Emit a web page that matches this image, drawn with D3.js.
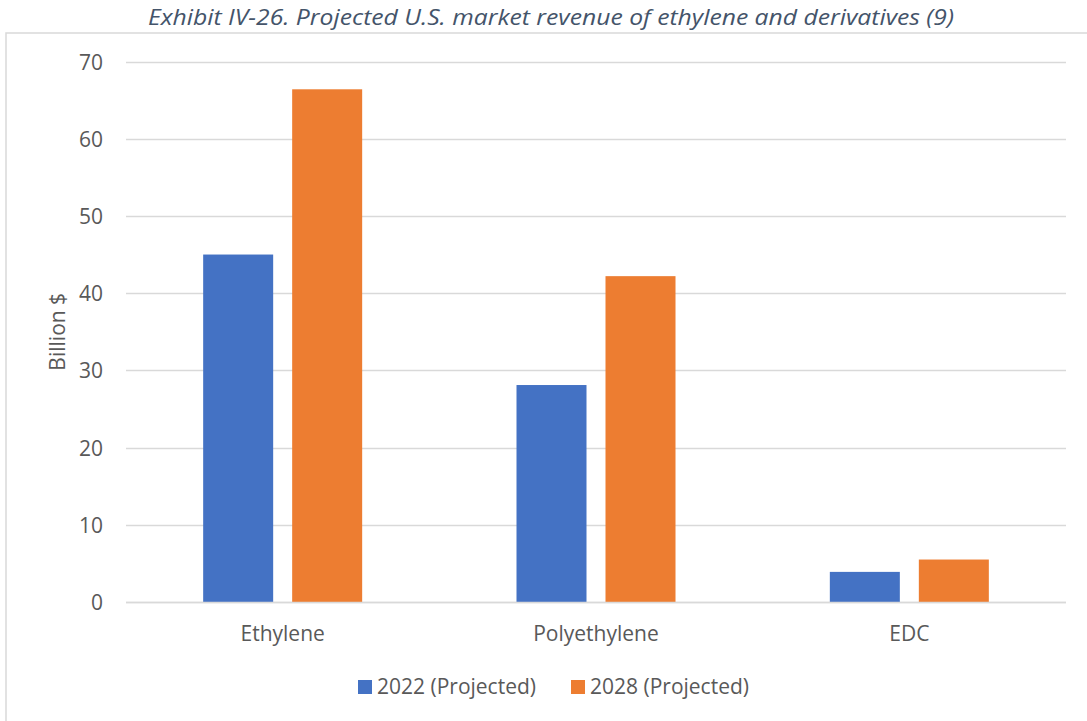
<!DOCTYPE html>
<html><head><meta charset="utf-8">
<script src="https://cdn.jsdelivr.net/npm/d3@7"></script>
<style>
html,body{margin:0;padding:0;background:#fff;}
svg{display:block;}
text{font-family:"Open Sans",sans-serif;}
</style></head>
<body>
<svg id="c" width="1087" height="721"></svg>
<script>
const categories = ["Ethylene", "Polyethylene", "EDC"];
const seriesNames = ["2022 (Projected)", "2028 (Projected)"];
const values2022 = [45.0, 28.1, 3.9];
const values2028 = [66.4, 42.2, 5.5];
const yTicks = [0, 10, 20, 30, 40, 50, 60, 70];
const colors = ["#4472C4", "#ED7D31"];
const title = "Exhibit IV-26. Projected U.S. market revenue of ethylene and derivatives (9)";
const yLabel = "Billion $";

const svg = d3.select("#c");
const W = 1087, H = 721;
const FS = 21;

// chart border
svg.append("rect").attr("x", 6).attr("y", 33).attr("width", W + 10).attr("height", H + 10)
  .attr("fill", "#fff").attr("stroke", "#d9d9d9").attr("stroke-width", 1.5);

// title
svg.append("text").attr("x", 551).attr("y", 25).attr("text-anchor", "middle")
  .attr("font-size", 22).attr("font-style", "italic").attr("fill", "#44546A")
  .attr("textLength", 806).attr("lengthAdjust", "spacingAndGlyphs").text(title);

const plotL = 126, plotR = 1066, plotT = 61.5, plotB = 602;
const y = d3.scaleLinear().domain([0, 70]).range([plotB, plotT]);
const x0 = d3.scaleBand().domain(categories).range([plotL, plotR]).padding(0);
const groupW = 159;
const x1 = d3.scaleBand().domain(seriesNames)
  .range([(x0.bandwidth() - groupW) / 2, (x0.bandwidth() + groupW) / 2])
  .paddingInner(19 / 89).paddingOuter(0);

// gridlines
svg.append("g").selectAll("line").data(yTicks).join("line")
  .attr("x1", plotL).attr("x2", plotR)
  .attr("y1", d => Math.round(y(d)) + 0.5).attr("y2", d => Math.round(y(d)) + 0.5)
  .attr("stroke", "#d9d9d9").attr("stroke-width", 1.5);

// y tick labels via axis
const yAxis = d3.axisLeft(y).tickValues(yTicks).tickSize(0).tickPadding(0);
const gy = svg.append("g").attr("transform", `translate(103,0)`).call(yAxis);
gy.select(".domain").remove();
gy.selectAll("text").attr("font-size", FS).attr("fill", "#595959")
  .attr("font-family", "Open Sans, sans-serif").attr("dy", "0.36em");

// y label
svg.append("text").attr("transform", `translate(65,${(plotT + plotB) / 2}) rotate(-90)`)
  .attr("text-anchor", "middle").attr("font-size", FS).attr("fill", "#595959").text(yLabel);

// bars
const data = categories.map((c, i) => ({ cat: c, vals: [values2022[i], values2028[i]] }));
const groups = svg.append("g").selectAll("g").data(data).join("g")
  .attr("transform", d => `translate(${x0(d.cat)},0)`);
groups.selectAll("rect").data(d => d.vals.map((v, j) => ({ s: seriesNames[j], v, j })))
  .join("rect")
  .attr("x", d => x1(d.s)).attr("width", x1.bandwidth())
  .attr("y", d => y(d.v)).attr("height", d => y(0) - y(d.v))
  .attr("fill", d => colors[d.j]);

// baseline redraw on top
svg.append("line").attr("x1", plotL).attr("x2", plotR).attr("y1", Math.round(y(0)) + 0.5).attr("y2", Math.round(y(0)) + 0.5)
  .attr("stroke", "#d9d9d9").attr("stroke-width", 1.5);

// x axis labels
const xAxis = d3.axisBottom(x0).tickSize(0).tickPadding(0);
const gx = svg.append("g").attr("transform", `translate(0,641)`).call(xAxis);
gx.select(".domain").remove();
gx.selectAll("text").attr("font-size", FS).attr("fill", "#595959")
  .attr("font-family", "Open Sans, sans-serif").attr("dy", 0).attr("y", 0);

// legend
const legX = [358, 571];
const lg = svg.append("g").selectAll("g").data(seriesNames).join("g")
  .attr("transform", (d, i) => `translate(${legX[i]},680)`);
lg.append("rect").attr("width", 14).attr("height", 14).attr("fill", (d, i) => colors[i]);
lg.append("text").attr("x", 19).attr("y", 14).attr("font-size", FS).attr("fill", "#595959").text(d => d);
</script>
</body></html>
